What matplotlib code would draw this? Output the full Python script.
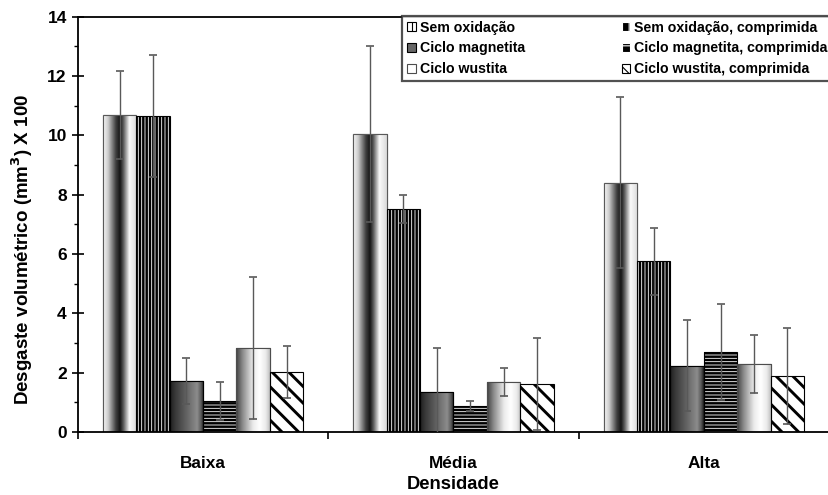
import numpy as np
import matplotlib
matplotlib.use('Agg')
import matplotlib.pyplot as plt
from matplotlib.colors import LinearSegmentedColormap
from matplotlib.patches import Rectangle

categories = ['Baixa', 'Média', 'Alta']
series_names = ['Sem oxidação', 'Sem oxidação, comprimida',
                'Ciclo magnetita', 'Ciclo magnetita, comprimida',
                'Ciclo wustita', 'Ciclo wustita, comprimida']
sem_ox = [10.70, 10.05, 8.41]
sem_ox_err = [1.48, 2.96, 2.88]
sem_ox_comp = [10.67, 7.51, 5.76]
sem_ox_comp_err = [2.06, 0.47, 1.13]
mag = [1.73, 1.34, 2.24]
mag_err = [0.77, 1.48, 1.53]
mag_comp = [1.05, 0.89, 2.71]
mag_comp_err = [0.65, 0.17, 1.62]
wus = [2.83, 1.70, 2.29]
wus_err = [2.39, 0.47, 0.97]
wus_comp = [2.03, 1.61, 1.89]
wus_comp_err = [0.88, 1.55, 1.61]

values = [sem_ox, sem_ox_comp, mag, mag_comp, wus, wus_comp]
errors = [sem_ox_err, sem_ox_comp_err, mag_err, mag_comp_err, wus_err, wus_comp_err]

plt.rcParams['font.family'] = ['Liberation Sans', 'DejaVu Sans']
plt.rcParams['font.weight'] = 'bold'

fig = plt.figure(figsize=(8.29, 4.95), dpi=100)
ax = fig.add_axes([0.094, 0.127, 0.906, 0.839])

grad_sem = LinearSegmentedColormap.from_list('sem', [
    (0.0, (0.97,)*3), (0.15, (0.80,)*3), (0.38, (0.25,)*3), (0.50, (0.08,)*3),
    (0.60, (0.35,)*3), (0.78, (0.98,)*3), (1.0, (0.85,)*3)])
grad_mag = LinearSegmentedColormap.from_list('mag', [
    (0.0, (0.12,)*3), (0.15, (0.22,)*3), (0.55, (0.42,)*3), (0.8, (0.55,)*3),
    (0.92, (0.35,)*3), (1.0, (0.1,)*3)])
grad_wus = LinearSegmentedColormap.from_list('wus', [
    (0.0, (0.25,)*3), (0.2, (0.55,)*3), (0.5, (0.92,)*3), (0.7, (1.0,)*3),
    (0.88, (0.92,)*3), (1.0, (0.75,)*3)])

n = len(values)
group_w = 0.8
bw = group_w / n
x = np.arange(len(categories))
grad_row = np.linspace(0, 1, 256).reshape(1, -1)

styles = [
    dict(kind='grad', cmap=grad_sem, edge='0.35'),
    dict(kind='hatch', face='black', hatch='|||||', hcol='white', edge='black', hlw=0.6),
    dict(kind='grad', cmap=grad_mag, edge='black'),
    dict(kind='hatch', face='black', hatch='-----', hcol='white', edge='black', hlw=0.6),
    dict(kind='grad', cmap=grad_wus, edge='0.3'),
    dict(kind='hatch', face='white', hatch='\\\\', hcol='black', edge='black', hlw=2.1),
]

for i, (vals, errs, st) in enumerate(zip(values, errors, styles)):
    pos = x - group_w / 2 + bw * (i + 0.5)
    if st['kind'] == 'grad':
        bars = ax.bar(pos, vals, bw, color='white', edgecolor=st['edge'], linewidth=0.8, zorder=2)
        for b in bars:
            im = ax.imshow(grad_row, cmap=st['cmap'], vmin=0, vmax=1, aspect='auto',
                           extent=[b.get_x(), b.get_x() + b.get_width(), 0, b.get_height()],
                           interpolation='bilinear', zorder=2.1)
            im.set_clip_path(b)
    else:
        plt.rcParams['hatch.linewidth'] = st['hlw']
        ax.bar(pos, vals, bw, color=st['face'], edgecolor=st['hcol'], hatch=st['hatch'],
               linewidth=0, zorder=2)
    ax.bar(pos, vals, bw, color='none', edgecolor=st['edge'], linewidth=0.8, zorder=2.2)
    ax.errorbar(pos, vals, yerr=errs, fmt='none', ecolor='0.35', elinewidth=1.0,
                capsize=3, capthick=1.2, zorder=3)

ax.set_xlim(-0.5, 2.5)
ax.set_ylim(0, 14)
ax.set_yticks(np.arange(0, 15, 2))
ax.set_yticks(np.arange(0, 15, 1), minor=True)
ax.set_xticks([-0.5, 0.5, 1.5, 2.5])
ax.set_xticklabels([])
ax.set_xticks(x, minor=True)
ax.set_xticklabels(categories, minor=True)
ax.tick_params(axis='x', which='minor', length=0, pad=17, labelsize=12.4)
ax.tick_params(axis='x', which='major', direction='out', length=5, width=1.2)
ax.tick_params(axis='y', which='major', direction='inout', length=8, width=1.2,
               labelsize=12.5, pad=4)
ax.tick_params(axis='y', which='minor', direction='out', length=3, width=1.0)
for lab in ax.get_xticklabels(minor=True) + ax.get_yticklabels():
    lab.set_fontweight('bold')

ax.spines['right'].set_visible(False)
for s in ['left', 'bottom', 'top']:
    ax.spines[s].set_linewidth(1.3)
    ax.spines[s].set_color('black')

ax.set_ylabel('Desgaste volumétrico (mm$^\\mathbf{3}$) X 100', fontsize=13.5, fontweight='bold')
ax.yaxis.set_label_coords(-0.057, 0.44)
ax.set_xlabel('Densidade', fontsize=13.2, fontweight='bold', labelpad=4)

plt.rcParams['hatch.linewidth'] = 0.8
handles = [
    Rectangle((0, 0), 1, 1, facecolor='white', edgecolor='black', hatch='||', linewidth=0.8),
    Rectangle((0, 0), 1, 1, facecolor='black', edgecolor='white', hatch='||', linewidth=0.8),
    Rectangle((0, 0), 1, 1, facecolor='0.4', edgecolor='black', linewidth=0.8),
    Rectangle((0, 0), 1, 1, facecolor='black', edgecolor='white', hatch='--', linewidth=0.8),
    Rectangle((0, 0), 1, 1, facecolor='white', edgecolor='0.3', linewidth=0.8),
    Rectangle((0, 0), 1, 1, facecolor='white', edgecolor='black', hatch='\\\\\\', linewidth=0.8),
]
order = [0, 2, 4, 1, 3, 5]
leg = ax.legend([handles[k] for k in order], [series_names[k] for k in order],
                ncol=2, loc='upper left', bbox_to_anchor=(0.4314, 1.003),
                frameon=True, fancybox=False, edgecolor='0.15',
                prop={'weight': 'bold', 'size': 10.2},
                handlelength=0.6, handleheight=0.6, handletextpad=0.3,
                columnspacing=6.8, labelspacing=0.47, borderpad=0.37,
                borderaxespad=0.0)
leg.get_frame().set_linewidth(1.6)
leg.set_zorder(5)

fig.savefig('out.png', dpi=100)
